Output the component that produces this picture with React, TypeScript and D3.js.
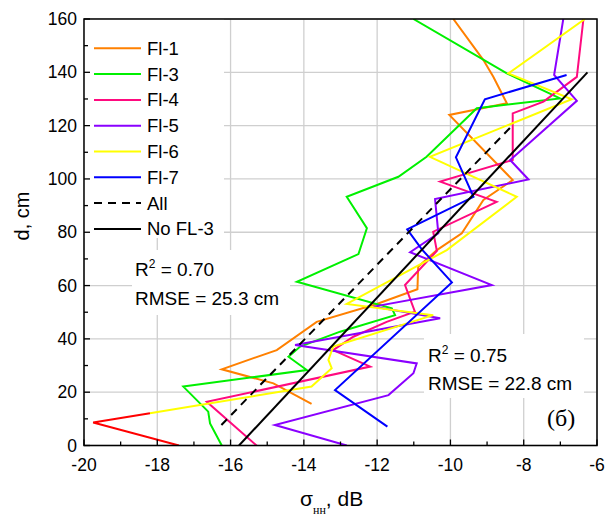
import React from "react";
import * as d3 from "d3";

type Pt = [number, number];

// sigma (dB), depth (cm)
const fl1: Pt[] = [[-9.92,160],[-9.1,144.6],[-8.83,138.3],[-8.46,128.4],[-10.03,124],[-8.3,99.6],[-9.1,92.1],[-9.69,79.6],[-10.37,73.3],[-10.88,67.1],[-10.9,58.6],[-12.01,53.1],[-13.65,46.4],[-14.74,35.8],[-16.24,28.6],[-14.83,23.3],[-13.79,15.6]];
const fl3: Pt[] = [[-11.01,160],[-8.46,139.6],[-7.01,130.2],[-9.28,126.5],[-10.65,108.3],[-11.42,100.8],[-12.83,93.3],[-12.28,81.5],[-12.51,71.8],[-14.19,61.4],[-11.6,51.5],[-11.51,48.9],[-13.01,42.7],[-14.1,37.1],[-14.42,33.3],[-13.92,28.3],[-17.29,22.1],[-16.61,12.7],[-16.56,8.3],[-16.24,0]];
const fl4: Pt[] = [[-6.37,160],[-6.55,138.3],[-7.46,129],[-8.3,124.6],[-8.3,107.1],[-10.28,99],[-8.74,91.4],[-10.47,80.2],[-10.37,73],[-11.24,60.2],[-10.97,50.2],[-11.74,46.4],[-12.65,40.8],[-13.2,35.8],[-12.19,29.6],[-16.65,16.4],[-15.29,0]];
const fl5: Pt[] = [[-6.92,160],[-7.17,139],[-6.55,129.3],[-8.37,107.1],[-7.87,99.8],[-10.42,92.5],[-10.33,79.6],[-11.1,72.5],[-8.87,60.2],[-12.1,52.1],[-10.28,47.7],[-14.24,37.7],[-10.92,30.8],[-11.01,27.1],[-11.69,18.9],[-14.79,7.7],[-12.83,0]];
const fl6: Pt[] = [[-6.33,160],[-8.42,139.6],[-6.69,129.9],[-10.56,108.3],[-8.19,93.3],[-10.1,73.3],[-12.83,53.1],[-10.47,48.9],[-13.2,37.1],[-13.33,32.1],[-13.24,29],[-13.79,22.1],[-18.2,12.1]];
const fl6Low: Pt[] = [[-18.2,12.1],[-19.75,8.6],[-17.41,0]];
const fl7: Pt[] = [[-6.83,139],[-9.06,129.9],[-9.85,108.1],[-9.37,93.3],[-11.18,81.1],[-10.78,73.6],[-9.96,61.2],[-13.15,20.8],[-11.72,7.1]];
const fitAll: Pt[] = [[-16.25,7.7],[-8.3,120.2]];
const fitNoFl3: Pt[] = [[-15.77,0],[-6.26,140]];

const xTicks = [-20, -18, -16, -14, -12, -10, -8, -6];
const xMinor = d3.range(-20, -5.5, 1);
const yTicks = [0, 20, 40, 60, 80, 100, 120, 140, 160];
const yMinor = d3.range(0, 161, 10);

const series = [
  { name: "Fl-1", data: fl1, color: "#ff8000", dash: "" , legend: true},
  { name: "Fl-3", data: fl3, color: "#00f000", dash: "" , legend: true},
  { name: "Fl-4", data: fl4, color: "#ff0a7f", dash: "" , legend: true},
  { name: "Fl-5", data: fl5, color: "#8a00ff", dash: "" , legend: true},
  { name: "Fl-6", data: fl6, color: "#ffff00", dash: "" , legend: true},
  { name: "Fl-6b", data: fl6Low, color: "#ff0000", dash: "" , legend: false},
  { name: "Fl-7", data: fl7, color: "#0000ff", dash: "" , legend: true},
  { name: "All", data: fitAll, color: "#000000", dash: "8 6" , legend: true},
  { name: "No FL-3", data: fitNoFl3, color: "#000000", dash: "" , legend: true},
];

export default function App() {
  const L = 84, R = 597, T = 19, B = 445.5;
  const x = d3.scaleLinear().domain([-20, -6]).range([L, R]);
  const y = d3.scaleLinear().domain([0, 160]).range([B, T]);
  const line = d3.line<Pt>().x(d => x(d[0])).y(d => y(d[1]));
  const sans = "'Liberation Sans', Arial, sans-serif";
  const legendItems = series.filter(s => s.legend);

  return (
    <svg width={613} height={528} style={{ position: "absolute", left: 0, top: 0, background: "#fff" }}>
      <defs>
        <clipPath id="plot"><rect x={L} y={T} width={R - L} height={B - T} /></clipPath>
      </defs>
      <rect x={0} y={0} width={613} height={528} fill="#fff" />
      {/* grid */}
      {xTicks.map(t => (
        <line key={"gx" + t} x1={x(t)} x2={x(t)} y1={T} y2={B} stroke="#cfcfcf" strokeWidth={1.3} />
      ))}
      {yTicks.map(t => (
        <line key={"gy" + t} x1={L} x2={R} y1={y(t)} y2={y(t)} stroke="#cfcfcf" strokeWidth={1.3} />
      ))}
      {/* white boxes */}
      <rect x={L} y={T} width={140} height={219} fill="#fff" />
      <rect x={132} y={250} width={158} height={65} fill="#fff" />
      <rect x={424} y={334} width={160} height={64} fill="#fff" />
      {/* series */}
      <g clipPath="url(#plot)">
        {series.map(s => (
          <path key={s.name} d={line(s.data) || ""} fill="none" stroke={s.color}
            strokeWidth={2} strokeDasharray={s.dash || undefined} strokeLinejoin="miter" />
        ))}
      </g>
      {/* frame */}
      <rect x={L} y={T} width={R - L} height={B - T} fill="none" stroke="#000" strokeWidth={1.5} />
      {/* ticks */}
      {xMinor.map(t => (
        <line key={"tx" + t} x1={x(t)} x2={x(t)} y1={B} y2={B - (t % 2 === 0 ? 6 : 4)} stroke="#000" strokeWidth={1.3} />
      ))}
      {yMinor.map(t => (
        <line key={"ty" + t} x1={L} x2={L + (t % 20 === 0 ? 6 : 4)} y1={y(t)} y2={y(t)} stroke="#000" strokeWidth={1.3} />
      ))}
      {/* tick labels */}
      {xTicks.map(t => (
        <text key={"lx" + t} x={x(t)} y={471} textAnchor="middle" fontFamily={sans} fontSize={17.5} fill="#000">{t}</text>
      ))}
      {yTicks.map(t => (
        <text key={"ly" + t} x={77} y={y(t) + 6} textAnchor="end" fontFamily={sans} fontSize={17.5} fill="#000">{t}</text>
      ))}
      {/* axis titles */}
      <text transform="translate(29,216) rotate(-90)" textAnchor="middle" fontFamily={sans} fontSize={20} fill="#000">d, cm</text>
      <text x={300} y={506} fontFamily={sans} fontSize={21} fill="#000">
        σ<tspan fontFamily="'Liberation Serif', serif" fontSize={12} dy={8}>нн</tspan><tspan dy={-8}>, dB</tspan>
      </text>
      {/* legend */}
      {legendItems.map((s, i) => {
        const yy = 48.3 + i * 25.8;
        return (
          <g key={"lg" + s.name}>
            <line x1={94} x2={141} y1={yy} y2={yy} stroke={s.color} strokeWidth={2} strokeDasharray={s.dash || undefined} />
            <text x={147} y={yy + 6.5} fontFamily={sans} fontSize={18.5} fill="#000">{s.name}</text>
          </g>
        );
      })}
      {/* annotations */}
      <text x={135} y={276} fontFamily={sans} fontSize={19} fill="#000">R<tspan fontSize={12} dy={-8}>2</tspan><tspan dy={8}> = 0.70</tspan></text>
      <text x={135} y={305} fontFamily={sans} fontSize={19} fill="#000">RMSE = 25.3 cm</text>
      <text x={428} y={361.5} fontFamily={sans} fontSize={19} fill="#000">R<tspan fontSize={12} dy={-8}>2</tspan><tspan dy={8}> = 0.75</tspan></text>
      <text x={428} y={390} fontFamily={sans} fontSize={19} fill="#000">RMSE = 22.8 cm</text>
      <text x={547} y={426} fontFamily="'Liberation Serif', 'Times New Roman', serif" fontSize={24} fill="#000">(б)</text>
    </svg>
  );
}
